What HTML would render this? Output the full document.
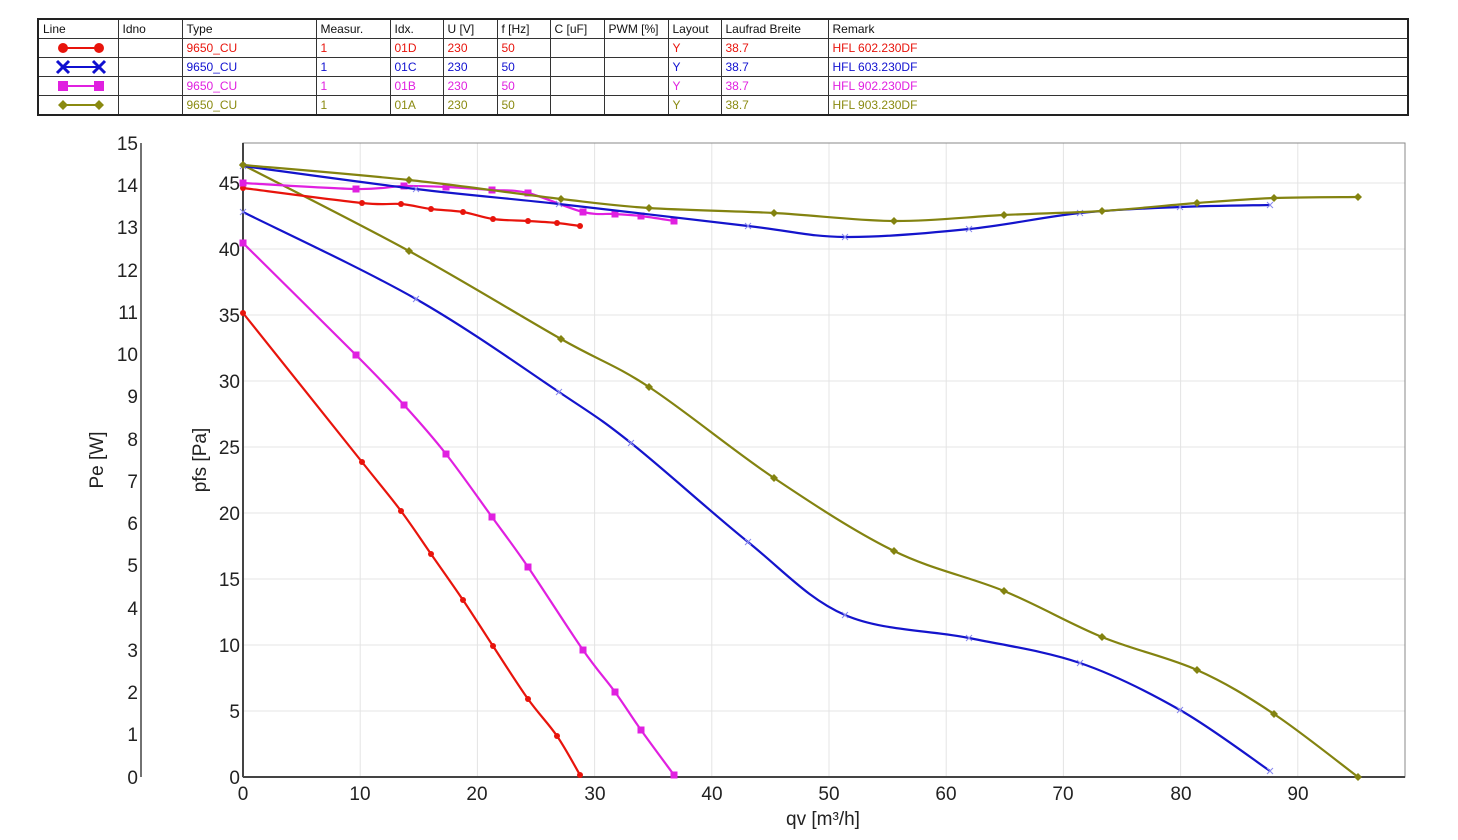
<!DOCTYPE html>
<html><head><meta charset="utf-8"><style>
body{margin:0;background:#fff;width:1458px;height:840px;overflow:hidden;font-family:"Liberation Sans",Arial,sans-serif}
table{position:absolute;left:37px;top:18px;width:1372px;border-collapse:collapse;border:2px solid #222;font-size:12px;table-layout:fixed}
td,th{border:1px solid #333;height:18px;padding:0 0 0 4px;text-align:left;font-weight:normal;white-space:nowrap;line-height:17px}
th{color:#111}
.r td{color:#e8140c}.b td{color:#1010d0}.m td{color:#e020e0}.o td{color:#8a8a10}
</style></head><body>
<table>
<colgroup><col style="width:80px"><col style="width:64px"><col style="width:134px"><col style="width:74px"><col style="width:53px"><col style="width:54px"><col style="width:53px"><col style="width:54px"><col style="width:64px"><col style="width:53px"><col style="width:107px"><col></colgroup>
<tr><th>Line</th><th>Idno</th><th>Type</th><th>Measur.</th><th>Idx.</th><th>U [V]</th><th>f [Hz]</th><th>C [uF]</th><th>PWM [%]</th><th>Layout</th><th>Laufrad Breite</th><th>Remark</th></tr>
<tr class="r"><td><svg width="70" height="16" style="display:block"><line x1="20" y1="8" x2="56" y2="8" stroke="#e8140c" stroke-width="2"/><circle cx="20" cy="8" r="5" fill="#e8140c"/><circle cx="56" cy="8" r="5" fill="#e8140c"/></svg></td><td></td><td>9650_CU</td><td>1</td><td>01D</td><td>230</td><td>50</td><td></td><td></td><td>Y</td><td>38.7</td><td>HFL 602.230DF</td></tr>
<tr class="b"><td><svg width="70" height="16" style="display:block"><line x1="20" y1="8" x2="56" y2="8" stroke="#1010d0" stroke-width="2"/><path d="M14 2L26 14M26 2L14 14M50 2L62 14M62 2L50 14" stroke="#1010d0" stroke-width="3"/></svg></td><td></td><td>9650_CU</td><td>1</td><td>01C</td><td>230</td><td>50</td><td></td><td></td><td>Y</td><td>38.7</td><td>HFL 603.230DF</td></tr>
<tr class="m"><td><svg width="70" height="16" style="display:block"><line x1="20" y1="8" x2="56" y2="8" stroke="#e020e0" stroke-width="2"/><rect x="15" y="3" width="10" height="10" fill="#e020e0"/><rect x="51" y="3" width="10" height="10" fill="#e020e0"/></svg></td><td></td><td>9650_CU</td><td>1</td><td>01B</td><td>230</td><td>50</td><td></td><td></td><td>Y</td><td>38.7</td><td>HFL 902.230DF</td></tr>
<tr class="o"><td><svg width="70" height="16" style="display:block"><line x1="20" y1="8" x2="56" y2="8" stroke="#8a8a10" stroke-width="2"/><path d="M20 3L25 8L20 13L15 8ZM56 3L61 8L56 13L51 8Z" fill="#8a8a10"/></svg></td><td></td><td>9650_CU</td><td>1</td><td>01A</td><td>230</td><td>50</td><td></td><td></td><td>Y</td><td>38.7</td><td>HFL 903.230DF</td></tr>
</table>
<svg id="c" width="1458" height="840" style="position:absolute;left:0;top:0" font-family="Liberation Sans,Arial,sans-serif">
<g stroke="#e4e4e4" stroke-width="1" id="grid"></g>
<rect x="243" y="143" width="1162" height="634" fill="none" stroke="#888" stroke-width="1"/>
<line x1="243" y1="143" x2="243" y2="777" stroke="#444" stroke-width="2"/>
<line x1="243" y1="777" x2="1405" y2="777" stroke="#444" stroke-width="2"/>
<line x1="141" y1="143" x2="141" y2="777" stroke="#444" stroke-width="1.5"/>
<g font-size="19" fill="#222" text-anchor="end">
<text x="138" y="150">15</text><text x="138" y="192">14</text><text x="138" y="234">13</text><text x="138" y="277">12</text><text x="138" y="319">11</text><text x="138" y="361">10</text><text x="138" y="403">9</text><text x="138" y="446">8</text><text x="138" y="488">7</text><text x="138" y="530">6</text><text x="138" y="572">5</text><text x="138" y="615">4</text><text x="138" y="657">3</text><text x="138" y="699">2</text><text x="138" y="741">1</text><text x="138" y="784">0</text>
<text x="240" y="190">45</text><text x="240" y="256">40</text><text x="240" y="322">35</text><text x="240" y="388">30</text><text x="240" y="454">25</text><text x="240" y="520">20</text><text x="240" y="586">15</text><text x="240" y="652">10</text><text x="240" y="718">5</text><text x="240" y="784">0</text>
</g>
<g font-size="19" fill="#222" text-anchor="middle">
<text x="243" y="800">0</text><text x="360" y="800">10</text><text x="477" y="800">20</text><text x="595" y="800">30</text><text x="712" y="800">40</text><text x="829" y="800">50</text><text x="946" y="800">60</text><text x="1063" y="800">70</text><text x="1181" y="800">80</text><text x="1298" y="800">90</text>
<text x="823" y="825">qv [m³/h]</text>
<text transform="translate(103,460) rotate(-90)">Pe [W]</text>
<text transform="translate(206,460) rotate(-90)">pfs [Pa]</text>
</g>
<g id="curves"></g>
</svg>
<script>
var g=document.getElementById('grid'),s='';
for(var i=1;i<=9;i++){var x=243+i*117.2;s+='<line x1="'+x+'" y1="143" x2="'+x+'" y2="777"/>';}
for(var j=1;j<=9;j++){var y=777-j*66;s+='<line x1="243" y1="'+y+'" x2="1405" y2="'+y+'"/>';}
g.innerHTML=s;
function path(p){var d='M'+p[0][0]+' '+p[0][1];for(var i=0;i<p.length-1;i++){var p0=p[i-1]||p[i],p1=p[i],p2=p[i+1],p3=p[i+2]||p2;
d+=' C'+(p1[0]+(p2[0]-p0[0])/6)+' '+(p1[1]+(p2[1]-p0[1])/6)+' '+(p2[0]-(p3[0]-p1[0])/6)+' '+(p2[1]-(p3[1]-p1[1])/6)+' '+p2[0]+' '+p2[1];}return d;}
function mk(t,c,x,y){if(t=='o')return '<circle cx="'+x+'" cy="'+y+'" r="3" fill="'+c+'"/>';
if(t=='s')return '<rect x="'+(x-3.5)+'" y="'+(y-3.5)+'" width="7" height="7" fill="'+c+'"/>';
if(t=='d')return '<path d="M'+x+' '+(y-4)+'L'+(x+4)+' '+y+'L'+x+' '+(y+4)+'L'+(x-4)+' '+y+'Z" fill="'+c+'"/>';
return '<path d="M'+(x-3)+' '+(y-3)+'L'+(x+3)+' '+(y+3)+'M'+(x+3)+' '+(y-3)+'L'+(x-3)+' '+(y+3)+'" stroke="#8888ee" stroke-width="1"/>';}
var S=[
['#e8140c','o',[[243,313],[362,462],[401,511],[431,554],[463,600],[493,646],[528,699],[557,736],[580,775]]],
['#e020e0','s',[[243,243],[356,355],[404,405],[446,454],[492,517],[528,567],[583,650],[615,692],[641,730],[674,775]]],
['#1414cc','x',[[243,212],[416,299],[559,392],[631,443],[748,542],[845,615],[969,638],[1080,663],[1180,710],[1270,771]]],
['#838310','d',[[243,165],[409,251],[561,339],[649,387],[774,478],[894,551],[1004,591],[1102,637],[1197,670],[1274,714],[1358,777]]],
['#e8140c','o',[[243,188],[362,203],[401,204],[431,209],[463,212],[493,219],[528,221],[557,223],[580,226]]],
['#e020e0','s',[[243,183],[356,189],[404,186],[446,187],[492,190],[528,193],[583,212],[615,214],[641,216],[674,221]]],
['#1414cc','x',[[243,166],[416,189],[559,204],[748,226],[845,237],[969,229],[1080,213],[1180,207],[1270,205]]],
['#838310','d',[[243,165],[409,180],[561,199],[649,208],[774,213],[894,221],[1004,215],[1102,211],[1197,203],[1274,198],[1358,197]]]];
var h='';S.forEach(function(a){h+='<path d="'+path(a[2])+'" fill="none" stroke="'+a[0]+'" stroke-width="2.2"/>';a[2].forEach(function(p){h+=mk(a[1],a[0],p[0],p[1]);});});
document.getElementById('curves').innerHTML=h;
</script>
</body></html>
